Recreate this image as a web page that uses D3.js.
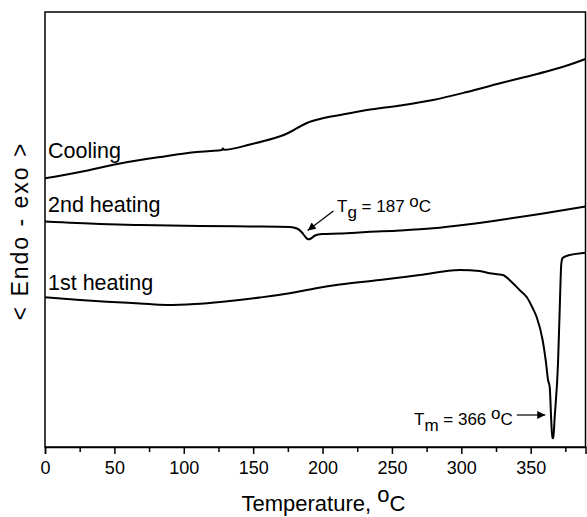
<!DOCTYPE html>
<html>
<head>
<meta charset="utf-8">
<script src="https://cdn.jsdelivr.net/npm/d3@7"></script>
<style>
  html, body { margin: 0; padding: 0; background: #fff; }
  svg { display: block; }
  text { font-family: Arial, "Liberation Sans", sans-serif; fill: #000; }
</style>
</head>
<body>
<svg id="chart" width="587" height="517"></svg>
<script>
// ---------------- data (temperature in °C, heat flow in arbitrary units) ----------------
const coolingT = [0, 25.2, 54, 82.9, 109.5, 118.9, 127.5, 128.2, 129, 147.7, 164.3, 172.9, 178.7, 183.8, 188.8, 198.2, 212.6, 232, 255.8, 279.6, 304.1, 327.9, 346, 364, 378.4, 389.5];
const coolingV = [268.7, 275, 283.5, 290, 295, 296, 297, 298.5, 297.2, 302.5, 308.5, 312.5, 316.5, 320.5, 324, 328, 332, 337, 341.5, 347, 355, 363.7, 370, 376.5, 382.5, 388];

const heat2T = [0, 39.6, 68.5, 111.7, 147.7, 176.6, 181.6, 185.2, 187.4, 189.5, 191.7, 194.6, 199.6, 212.6, 232, 255.8, 279.6, 304.1, 327.9, 356.7, 389.5];
const heat2V = [225.5, 223, 222, 221, 220.5, 220, 218.5, 214.5, 210.5, 207.7, 208.5, 211.5, 213, 213.5, 215, 216.5, 218.7, 222.5, 227, 233, 240.5];

const heat1T = [0, 25.2, 44.6, 68.4, 87.9, 108, 128.2, 154.8, 176.4, 194.4, 212.4, 241.2, 270, 298.9, 313.3, 320.5, 329.8, 337, 342, 347.1, 351.4, 354.3, 358.6, 360.8, 362.5, 363.7, 364.9, 365.6, 366.3, 367.3, 369.7, 370.9, 372.1, 373, 375.7, 389.5];
const heat1V = [149.7, 147, 145.3, 143.5, 142, 143, 145.3, 149.5, 153.7, 158.5, 162.5, 167, 172, 177, 176, 173.7, 172, 164, 157, 150, 139, 130, 107, 87, 67, 60, 24, 8.7, 9, 30, 84, 137, 184, 189, 191, 194.3];

const seriesNames = ["Cooling", "2nd heating", "1st heating"];
const xTicks = [0, 50, 100, 150, 200, 250, 300, 350];
const xMinorTicks = [25, 75, 125, 175, 225, 275, 325, 375];
const xDomain = [0, 389.5];
const yDomain = [0, 435];

// ---------------- layout ----------------
const svg = d3.select("#chart");
const mLeft = 45, mTop = 12, mRight = 585.5, mBottom = 447;

const x = d3.scaleLinear().domain(xDomain).range([mLeft, mRight]);
const y = d3.scaleLinear().domain(yDomain).range([mBottom, mTop]);

const line = d3.line().x(d => x(d[0])).y(d => y(d[1])).curve(d3.curveMonotoneX);

const series = [
  { name: seriesNames[0], pts: d3.zip(coolingT, coolingV) },
  { name: seriesNames[1], pts: d3.zip(heat2T, heat2V) },
  { name: seriesNames[2], pts: d3.zip(heat1T, heat1V) }
];

// frame
svg.append("rect")
  .attr("x", mLeft).attr("y", mTop)
  .attr("width", mRight - mLeft).attr("height", mBottom - mTop)
  .attr("fill", "none").attr("stroke", "#000").attr("stroke-width", 1.5);

// curves
svg.selectAll("path.curve").data(series).enter().append("path")
  .attr("class", "curve")
  .attr("d", d => line(d.pts))
  .attr("fill", "none").attr("stroke", "#000").attr("stroke-width", 2)
  .attr("stroke-linejoin", "round");

// x axis (major)
const gx = svg.append("g").attr("transform", `translate(0,${mBottom})`)
  .call(d3.axisBottom(x).tickValues(xTicks).tickSize(7).tickPadding(7).tickFormat(d3.format("d")));
gx.select(".domain").attr("stroke-width", 1.5);
gx.selectAll(".tick line").attr("stroke-width", 1.5);
gx.selectAll(".tick text").style("font-size", "18px").style("font-family", "Arial, 'Liberation Sans', sans-serif");

// x axis (minor)
const gxm = svg.append("g").attr("transform", `translate(0,${mBottom})`)
  .call(d3.axisBottom(x).tickValues(xMinorTicks).tickSize(5).tickFormat(""));
gxm.select(".domain").remove();
gxm.selectAll(".tick line").attr("stroke-width", 1.5);

// axis titles
const xt = svg.append("text").attr("x", 241.5).attr("y", 511).style("font-size", "22px");
xt.append("tspan").text("Temperature, ");
xt.append("tspan").attr("dy", -9).text("o");
xt.append("tspan").attr("dy", 9).text("C");

svg.append("text")
  .attr("transform", "translate(28,231) rotate(-90)")
  .attr("text-anchor", "middle")
  .style("font-size", "23px")
  .style("letter-spacing", "2px")
  .text("< Endo - exo >");

// series labels
const labelPos = [[48, 158], [48, 212], [48, 290]];
svg.selectAll("text.slabel").data(seriesNames).enter().append("text")
  .attr("class", "slabel")
  .attr("x", (d, i) => labelPos[i][0]).attr("y", (d, i) => labelPos[i][1])
  .style("font-size", "21.5px")
  .text(d => d);

// arrow marker
svg.append("defs").append("marker")
  .attr("id", "arr").attr("viewBox", "0 0 10 10")
  .attr("refX", 10).attr("refY", 5)
  .attr("markerWidth", 10).attr("markerHeight", 8)
  .attr("markerUnits", "userSpaceOnUse")
  .attr("orient", "auto")
  .append("path").attr("d", "M0,0 L10,5 L0,10 Z").attr("fill", "#000");

// Tg annotation
const tgTip = [189.3, 216.5];
svg.append("line")
  .attr("x1", x(207.8)).attr("y1", y(236))
  .attr("x2", x(tgTip[0])).attr("y2", y(tgTip[1]))
  .attr("stroke", "#000").attr("stroke-width", 1.2).attr("marker-end", "url(#arr)");
const tg = svg.append("text").attr("x", 337).attr("y", 212).style("font-size", "17px");
tg.append("tspan").text("T");
tg.append("tspan").attr("dy", 6).text("g");
tg.append("tspan").attr("dy", -6).text(" = 187 ");
tg.append("tspan").attr("dy", -5).text("o");
tg.append("tspan").attr("dy", 5).text("C");

// Tm annotation
const tmTip = [360.5, 32];
svg.append("line")
  .attr("x1", x(340)).attr("y1", y(tmTip[1]))
  .attr("x2", x(tmTip[0])).attr("y2", y(tmTip[1]))
  .attr("stroke", "#000").attr("stroke-width", 1.2).attr("marker-end", "url(#arr)");
const tm = svg.append("text").attr("x", 414).attr("y", 425).style("font-size", "17px");
tm.append("tspan").text("T");
tm.append("tspan").attr("dy", 6).text("m");
tm.append("tspan").attr("dy", -6).text(" = 366 ");
tm.append("tspan").attr("dy", -6).text("o");
tm.append("tspan").attr("dy", 6).text("C");
</script>
</body>
</html>
